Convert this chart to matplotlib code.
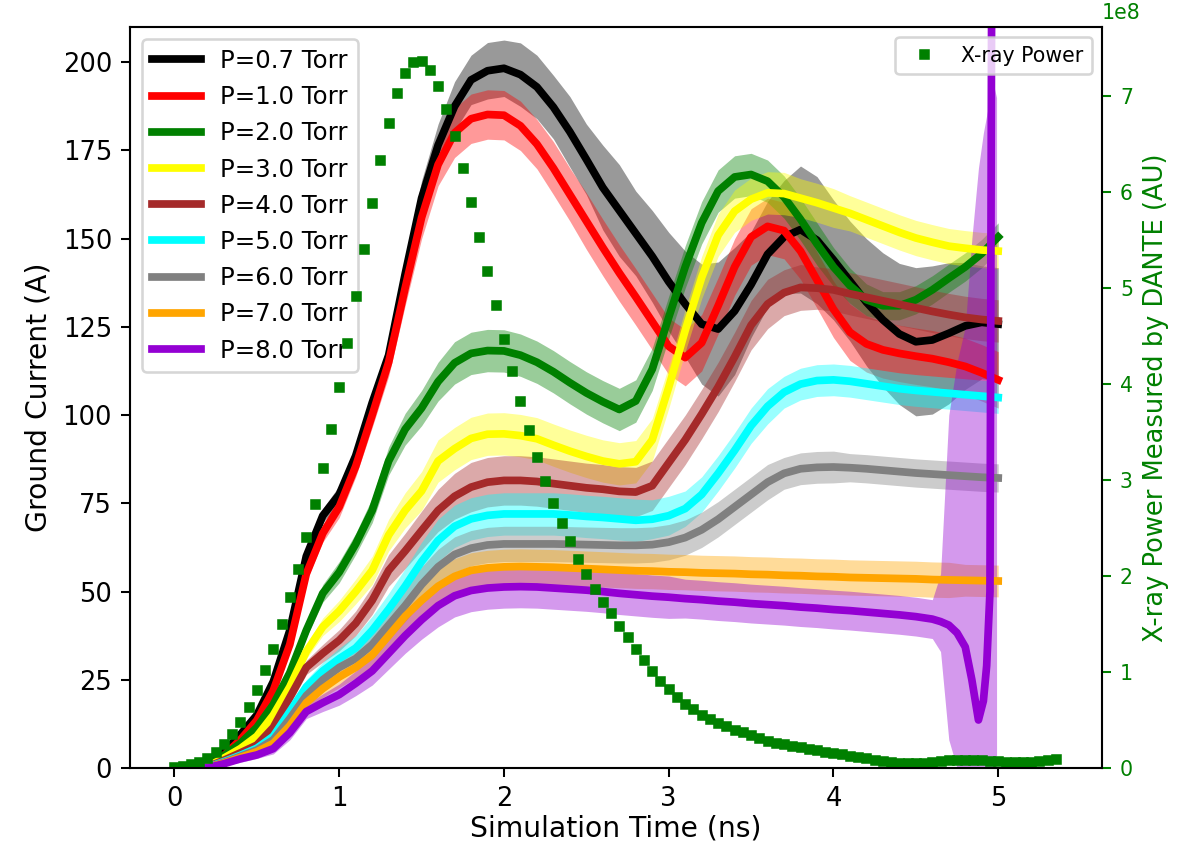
import matplotlib.pyplot as plt
import numpy as np

# time grid of the current traces (ns), 0.1 ns steps
t = [0.0, 0.1, 0.2, 0.3, 0.4, 0.5, 0.6, 0.7, 0.8, 0.9, 1.0,
     1.1, 1.2, 1.3, 1.4, 1.5, 1.6, 1.7, 1.8, 1.9, 2.0,
     2.1, 2.2, 2.3, 2.4, 2.5, 2.6, 2.7, 2.8, 2.9, 3.0,
     3.1, 3.2, 3.3, 3.4, 3.5, 3.6, 3.7, 3.8, 3.9, 4.0,
     4.1, 4.2, 4.3, 4.4, 4.5, 4.6, 4.7, 4.8, 4.9, 5.0]

labels = ["P=0.7 Torr", "P=1.0 Torr", "P=2.0 Torr", "P=3.0 Torr", "P=4.0 Torr",
          "P=5.0 Torr", "P=6.0 Torr", "P=7.0 Torr", "P=8.0 Torr"]
colors = ["black", "red", "green", "yellow", "brown",
          "cyan", "gray", "orange", "darkviolet"]

# smoothed ground current (A)
i07 = [0, 0, 0.8, 4.5, 9.5, 15, 24.5, 39, 60, 71.5, 77.5,
       88.5, 103.5, 117, 140, 161.5, 176.5, 187.5, 195, 197.6, 198.3,
       196.5, 193, 187.3, 180.3, 172.5, 164.5, 158, 151.5, 145, 137.8,
       131.5, 125.8, 124.4, 129.5, 137, 145.6, 150.5, 152.6, 149.6, 144,
       138, 132, 127, 123, 120.8, 121.3, 123.2, 125.3, 126.3, 125.8]
i10 = [0, 0, 0.5, 3.5, 8, 13.5, 22, 35, 55, 66.5, 74,
       85.5, 100, 115, 136, 156, 171, 180, 184, 185.2, 185,
       182, 176.8, 170, 162.5, 155, 147.5, 140.3, 133.5, 126.5, 119.5,
       116.3, 120.5, 131, 142, 150.5, 153.5, 152.3, 146.5, 138.3, 130,
       123.5, 120.2, 118.5, 117.5, 116.7, 116, 115, 113.8, 112, 110]
i20 = [0, 0, 0.5, 3.5, 7, 11.5, 18, 27, 39, 49.5, 55.5,
       63.5, 73, 87, 96, 102, 109.5, 114.8, 117.5, 118.3, 118.2,
       117, 115, 112.3, 109.2, 106.3, 103.8, 101.6, 104, 113, 127.7,
       142, 154.5, 163.5, 167.5, 168.2, 166.3, 161.8, 155.5, 148.5, 142,
       136.7, 132.7, 131, 131, 132.7, 135.5, 138.8, 142, 145.8, 150.5]
i30 = [0, 0, 0.4, 2.8, 5.5, 9, 15, 23, 33, 40, 44.5,
       50, 56, 66, 73, 78.5, 87, 90.5, 93.4, 94.6, 94.7,
       94.2, 93.3, 91.5, 89.8, 88.3, 87, 86.2, 86.8, 93, 107.9,
       124, 139, 151, 157.8, 161.2, 163, 162.8, 161.5, 160.2, 158.7,
       157.2, 155.4, 153.6, 151.8, 150.2, 149, 147.9, 147.3, 146.8, 146.5]
i40 = [0, 0, 0.3, 2.2, 4.3, 6.5, 11.5, 20, 28.5, 32.5, 36.2,
       41, 47.5, 56, 61.5, 67.3, 73, 77, 79.6, 81, 81.5,
       81.5, 81.2, 80.6, 80, 79.4, 79, 78.4, 78.2, 80, 86.5,
       93, 100.3, 108, 116.5, 125.5, 131.5, 134.7, 136.2, 136, 135.5,
       134.4, 133.4, 132.4, 131.4, 130.4, 129.4, 128.5, 127.7, 127.1, 126.7]
i50 = [0, 0, 0.2, 1.8, 3.6, 5.6, 9, 16, 23, 27.5, 31,
       34, 39, 45, 51.5, 58.5, 64.5, 68.5, 70.6, 71.6, 72,
       72, 72, 72, 71.7, 71.3, 71, 70.6, 70.2, 70.5, 71.5,
       73.5, 77.5, 83.5, 90, 97, 102.5, 106.5, 108.8, 109.8, 110,
       109.6, 108.9, 108.2, 107.5, 107, 106.6, 106.2, 105.8, 105.4, 105]
i60 = [0, 0, 0.2, 1.6, 3.3, 5.1, 8, 14, 20.5, 25, 28.5,
       31, 35, 40.5, 46, 52, 57, 60.5, 62.3, 63.2, 63.5,
       63.5, 63.5, 63.5, 63.4, 63.3, 63.2, 63.1, 63.1, 63.3, 64,
       65.3, 67.5, 70.5, 74, 77.5, 81, 83.5, 84.8, 85.2, 85.3,
       85.1, 84.8, 84.4, 84, 83.6, 83.3, 83, 82.7, 82.4, 82.2]
i70 = [0, 0, 0.1, 1.4, 3.0, 4.6, 7, 12, 18.5, 22.5, 25.8,
       28.5, 32, 37.5, 43, 47.5, 51.5, 54.3, 56, 56.7, 57,
       57.1, 57, 56.9, 56.7, 56.5, 56.3, 56.1, 55.9, 55.8, 55.6,
       55.5, 55.3, 55.2, 55.1, 54.9, 54.8, 54.6, 54.5, 54.3, 54.2,
       54, 53.9, 53.8, 53.7, 53.6, 53.4, 53.3, 53.2, 53.1, 53]
# P=8.0 runs on the same grid to 4.6 ns, then a finer tail with the collapse and spike
t80_tail = [4.65, 4.7, 4.75, 4.8, 4.84, 4.88, 4.91, 4.93, 4.95, 4.965, 4.99]
i80 = [0, 0, 0.1, 1.2, 2.6, 3.7, 5.5, 10, 16, 18.5, 20.8,
       24, 27.5, 32.5, 37.5, 42, 46, 48.8, 50.3, 51, 51.3,
       51.4, 51.3, 51, 50.7, 50.4, 50, 49.5, 49.1, 48.7, 48.4,
       48, 47.7, 47.3, 47, 46.6, 46.3, 46, 45.6, 45.3, 44.9,
       44.6, 44.2, 43.8, 43.4, 42.9, 42.2]
i80_tail = [41.5, 40.5, 38.3, 34.3, 25, 13.6, 19, 29, 50, 300, 500]

# half-width of the raw (noisy) data around each trace (A)
w07 = [0, 0, 0, 0.5, 1, 1, 1.5, 2, 2, 2, 2.5,
       3, 3, 3.5, 4, 5, 6, 7, 7, 8, 8,
       9, 9, 9, 10, 10, 12, 13, 12, 13, 14,
       15, 17, 19, 18, 15, 15, 16, 18, 18, 17,
       17, 18, 19, 20, 21, 21, 20, 18, 16, 16]
w10 = [0, 0, 0, 0.5, 1, 1, 1.5, 2, 2, 2.5, 3,
       3, 3.5, 4, 5, 6, 6, 7, 7, 7, 7,
       7, 7, 7.5, 7.5, 8, 8, 8, 8, 8, 8,
       8, 8, 8, 8, 8, 8, 8, 8, 8, 8,
       8, 8, 8, 8, 8, 8, 8, 8, 8, 8]
w20 = [0, 0, 0, 0.5, 1, 1, 1.5, 2, 2, 2.5, 3,
       3, 3.5, 4, 4.5, 5, 5.5, 6, 6, 6, 6,
       6, 6, 6, 6, 6, 6, 6, 6, 6, 6,
       6, 6, 6, 6, 6, 6, 6, 6, 6, 5.5,
       5, 4.5, 4, 4, 4, 4, 4, 4, 4, 4]
w30 = [0, 0, 0, 0.5, 1, 1, 1.5, 2, 2, 2.5, 3,
       3.5, 4, 4.5, 5, 5.5, 6, 6, 6, 6, 6,
       6, 6, 6, 6, 6, 6, 6, 6, 6, 6,
       6, 6, 6, 6, 6, 6, 6, 5.5, 5.5, 5.5,
       5, 5, 5, 5, 5, 5, 5, 5, 5, 5]
w40 = [0, 0, 0, 0.5, 1, 1, 1.5, 2, 2, 2.5, 3,
       3.5, 4, 4.5, 5, 5.5, 6, 6.5, 7, 7, 7,
       7, 7, 7, 7, 7, 7, 7, 7, 7, 7,
       7, 7, 7, 7, 7, 7, 6.5, 6.5, 6, 6,
       6, 6, 6, 6, 6, 6, 6, 6, 6, 6]
w50 = [0, 0, 0, 0.5, 1, 1, 1.5, 2, 2, 2.5, 3,
       3.5, 4, 4.5, 5, 5.5, 6, 6, 6, 6, 6,
       6, 6, 6, 6, 6, 6, 6, 6, 5.5, 5.5,
       5, 5, 5, 5, 5, 5, 4.5, 4.5, 4.5, 4.5,
       4.5, 4.5, 4.5, 4.5, 4.5, 4.5, 4.5, 4.5, 4.5, 4.5]
w60 = [0, 0, 0, 0.5, 1, 1, 1.5, 2, 2, 2.5, 3,
       3, 3.5, 4, 4.5, 5, 5, 5, 5, 5, 5,
       5, 5, 5, 5, 5, 5, 5, 5, 5, 5,
       5, 5, 5, 5, 5, 5, 4.5, 4.5, 4.5, 4.5,
       4, 4, 4, 4, 4, 4, 4, 4, 4, 4]
w70 = [0, 0, 0, 0.5, 1, 1, 1.5, 2, 2, 2.5, 3,
       3, 3.5, 4, 4.5, 5, 5, 5, 5, 5, 5,
       5, 5, 5, 5, 5, 5, 5, 5, 5, 5,
       5, 5, 5, 5, 5, 5, 5, 5, 5, 5,
       5, 5, 5, 5, 5, 5, 5, 4.5, 4.5, 4.5]
w80 = [0, 0, 0, 0.5, 1, 1, 1.5, 2, 2, 2.5, 3,
       3.5, 4, 4.5, 5, 5.5, 6, 6, 6, 6, 6,
       6, 6, 6, 6, 6, 6, 6, 6, 6, 6,
       5.5, 5.5, 5.5, 5.5, 5.5, 5.5, 5.5, 5.5, 5.5, 5.5,
       5.5, 5.5, 5.5, 5.5, 5.5, 5.5]
lo80_tail = [33, 8, 0, 0, 0, 0, 0, 0, 0, 0, 0]
hi80_tail = [55, 100, 115, 125, 150, 170, 180, 185, 190, 195, 190]

# DANTE x-ray power (x1e8 AU), one sample every 0.05 ns from t=0
xray_dt = 0.05
xray = [0.014, 0.02, 0.04, 0.066, 0.107, 0.17, 0.247, 0.354, 0.482, 0.639,
        0.81, 1.02, 1.243, 1.5, 1.784, 2.076, 2.403, 2.75, 3.128, 3.531,
        3.966, 4.43, 4.917, 5.41, 5.89, 6.33, 6.72, 7.03, 7.24, 7.36,
        7.37, 7.27, 7.11, 6.87, 6.58, 6.25, 5.90, 5.53, 5.18, 4.82,
        4.47, 4.14, 3.82, 3.52, 3.24, 2.99, 2.76, 2.555, 2.36, 2.18,
        2.02, 1.865, 1.73, 1.61, 1.48, 1.36, 1.24, 1.12, 1.01, 0.91,
        0.82, 0.74, 0.67, 0.61, 0.55, 0.51, 0.47, 0.44, 0.40, 0.37,
        0.34, 0.31, 0.28, 0.26, 0.245, 0.23, 0.215, 0.20, 0.185, 0.17,
        0.158, 0.145, 0.13, 0.115, 0.10, 0.088, 0.075, 0.063, 0.055, 0.05,
        0.05, 0.055, 0.065, 0.075, 0.082, 0.085, 0.085, 0.083, 0.08, 0.075,
        0.07, 0.065, 0.06, 0.06, 0.065, 0.075, 0.085, 0.095]

currents = [i07, i10, i20, i30, i40, i50, i60, i70]
widths = [w07, w10, w20, w30, w40, w50, w60, w70]

fig = plt.figure(figsize=(1185 / 185, 847 / 185), dpi=185)
ax1 = fig.add_axes([130 / 1185, 79 / 847, 972 / 1185, 741 / 847])

tt = np.array(t)
# raw data spread first, smoothed lines on top
for y, w, c in zip(currents, widths, colors):
    y = np.array(y)
    w = np.array(w)
    ax1.fill_between(tt, y - w, y + w, color=c, alpha=0.4, lw=0)
t8 = np.concatenate([tt[:len(i80)], t80_tail])
y8 = np.concatenate([i80, i80_tail])
lo8 = np.concatenate([np.array(i80) - np.array(w80), lo80_tail])
hi8 = np.concatenate([np.array(i80) + np.array(w80), hi80_tail])
ax1.fill_between(t8, lo8, hi8, color=colors[8], alpha=0.4, lw=0)

for y, c, lab in zip(currents, colors, labels):
    ax1.plot(tt, y, color=c, lw=3, label=lab)
ax1.plot(t8, y8, color=colors[8], lw=3, label=labels[8])

ax1.set_xlim(-0.27, 5.63)
ax1.set_ylim(0, 210)
ax1.set_yticks(np.arange(0, 201, 25))
ax1.set_xlabel("Simulation Time (ns)", fontsize=11, labelpad=1)
ax1.set_ylabel("Ground Current (A)", fontsize=11)
ax1.tick_params(labelsize=10)
ax1.legend(loc="upper left", fontsize=9.5)

ax2 = ax1.twinx()
xt = np.arange(len(xray)) * xray_dt
ax2.plot(xt, np.array(xray) * 1e8, "s", color="green", ms=3.3, label="X-ray Power")
ax2.set_ylim(0, 7.72e8)
ax2.set_ylabel("X-ray Power Measured by DANTE (AU)", color="green", fontsize=10)
ax2.tick_params(axis="y", colors="green", labelsize=8)
off = ax2.yaxis.get_offset_text()
off.set_color("green")
off.set_fontsize(8)
off.set_horizontalalignment("left")
ax2.legend(loc="upper right", fontsize=8)

fig.savefig("out.png", dpi=185)
